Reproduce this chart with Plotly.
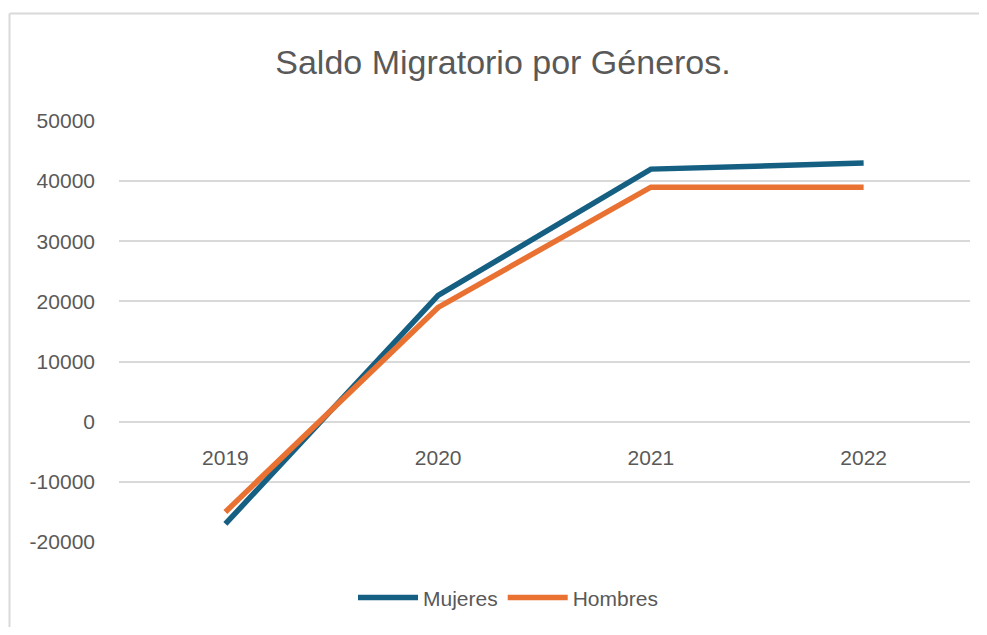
import plotly.graph_objects as go

years = ["2019", "2020", "2021", "2022"]
mujeres = [-17000, 21000, 42000, 43000]
hombres = [-15000, 19000, 39000, 39000]
y_ticks = [-20000, -10000, 0, 10000, 20000, 30000, 40000, 50000]

OFF = 8  # body margin of the html page
W, H = 987 - 2 * OFF, 635 - 2 * OFF
L, T = 119 - OFF, 121 - OFF
R = W - (970 - OFF)
B = H - (544 - OFF)
pw, ph = W - L - R, H - T - B

def px_x(px):
    return (px - OFF - L) / pw

def px_y(py):
    return ((H - B) - (py - OFF)) / ph

fig = go.Figure()
fig.add_trace(go.Scatter(x=years, y=mujeres, name="Mujeres", mode="lines",
                         line=dict(color="#156082", width=5.5)))
fig.add_trace(go.Scatter(x=years, y=hombres, name="Hombres", mode="lines",
                         line=dict(color="#E97132", width=5.5)))

zero_pos = (0 - y_ticks[0]) / (y_ticks[-1] - y_ticks[0])

fig.update_layout(
    width=W, height=H,
    margin=dict(l=L, r=R, t=T, b=B),
    paper_bgcolor="white", plot_bgcolor="white",
    font=dict(family="Liberation Sans, Arial, sans-serif", color="#595959", size=21),
    title=dict(text="Saldo Migratorio por Géneros.", x=px_x(503), xref="paper",
               xanchor="center", y=1 - (62 - OFF) / H, yanchor="middle",
               font=dict(size=34, color="#595959")),
    xaxis=dict(type="category", range=[-0.5, 3.5], showgrid=False, zeroline=False,
               showline=False, ticks="", anchor="free", position=zero_pos,
               tickfont=dict(size=21, color="#595959"), ticklabelstandoff=21),
    yaxis=dict(range=[y_ticks[0], y_ticks[-1]], tickvals=y_ticks,
               ticktext=[str(v) for v in y_ticks], showgrid=True,
               gridcolor="#D9D9D9", gridwidth=1.5, zeroline=False, showline=False,
               ticks="", tickfont=dict(size=21, color="#595959"), ticklabelstandoff=23),
    legend=dict(orientation="h", x=px_x(508), xanchor="center",
                y=px_y(600), yanchor="middle",
                font=dict(size=21, color="#595959"), itemwidth=60, tracegroupgap=0),
    showlegend=True,
)

# chart-area border (top and left edges visible in the reference)
fig.add_shape(type="line", xref="paper", yref="paper",
              x0=px_x(9.5), x1=px_x(1100), y0=px_y(13), y1=px_y(13),
              line=dict(color="#D9D9D9", width=2), layer="below")
fig.add_shape(type="line", xref="paper", yref="paper",
              x0=px_x(9.5), x1=px_x(9.5), y0=px_y(13), y1=px_y(700),
              line=dict(color="#D9D9D9", width=2), layer="below")

fig.write_html("out.html")
